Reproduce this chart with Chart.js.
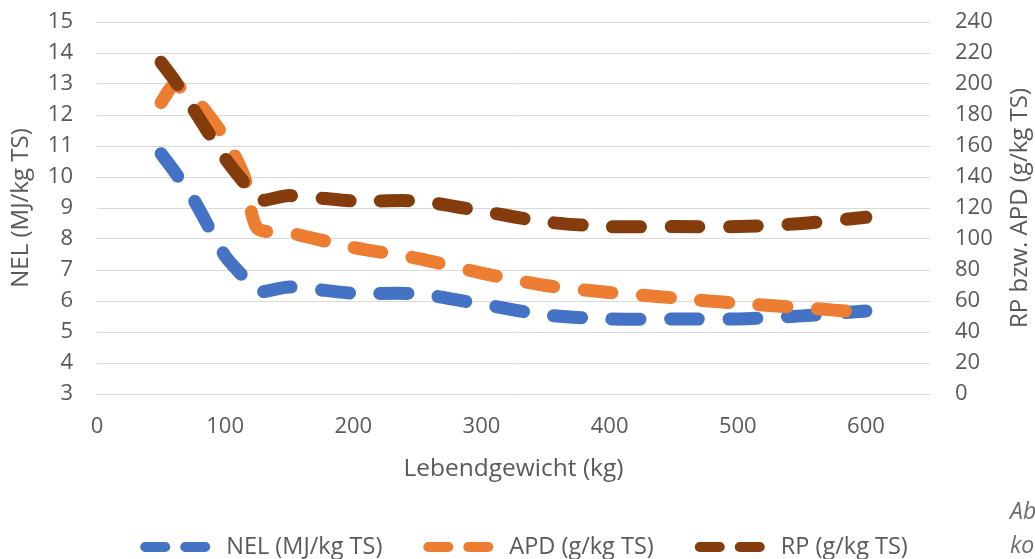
<!DOCTYPE html>
<html>
<head>
<meta charset="utf-8">
<script src="https://cdn.jsdelivr.net/npm/chart.js@4.4.1/dist/chart.umd.min.js"></script>
<style>
  html, body { margin: 0; padding: 0; background: #fff; overflow: hidden; }
  #wrap { position: relative; width: 1035px; height: 559px; }
  .cap { position: absolute; left: 1010px; font: italic 23px "Open Sans", sans-serif; color: #6d6d6d; white-space: nowrap; }
</style>
</head>
<body>
<div id="wrap">
  <canvas id="chart" width="1035" height="559"></canvas>
  <div class="cap" style="top:494px">Ab</div>
  <div class="cap" style="top:528px">ko</div>
</div>
<script>
// Lebendgewicht (kg) und Werte
const weights = [50, 60, 75, 100, 115, 125, 150, 200, 250, 300, 350, 400, 450, 500, 550, 600];
const nel = [10.75, 10.2, 9.3, 7.45, 6.75, 6.3, 6.45, 6.25, 6.23, 5.9, 5.55, 5.42, 5.42, 5.42, 5.52, 5.68];
const apd = [188, 199, 192, 165, 140, 107, 104, 94.5, 87.5, 78, 70, 65.5, 62, 58.5, 55.7, 52.5];
const rp  = [214, 203, 184, 152, 136, 125, 128, 124.5, 124.5, 118, 111, 108, 108, 108, 110, 114];

const xTicks = [0, 100, 200, 300, 400, 500, 600];
const seriesNames = ['NEL (MJ/kg TS)', 'APD (g/kg TS)', 'RP (g/kg TS)'];
const seriesColors = ['#4472C4', '#ED7D31', '#843C0C'];

const FONT = '"Open Sans", sans-serif';
const TXT = '#595959';
const NONE = 'rgba(0,0,0,0)';

function pts(vals){ return weights.map((w, i) => ({x: w, y: vals[i]})); }

function lineSet(i, vals, axis, order){
  return {
    label: seriesNames[i],
    data: pts(vals),
    yAxisID: axis,
    order: order,
    borderColor: seriesColors[i],
    backgroundColor: seriesColors[i],
    borderWidth: 13,
    borderDash: [28, 30.5],
    borderCapStyle: 'round',
    borderJoinStyle: 'round',
    pointRadius: 0,
    tension: 0.25,
    fill: false
  };
}

// rechte Achsenbeschriftung, von unten nach oben gelesen
const rightTitle = {
  id: 'rightTitle',
  afterDraw(chart){
    const {ctx, chartArea} = chart;
    ctx.save();
    ctx.translate(1020, (chartArea.top + chartArea.bottom) / 2);
    ctx.rotate(-Math.PI / 2);
    ctx.font = '24px ' + FONT;
    ctx.fillStyle = TXT;
    ctx.textAlign = 'center';
    ctx.textBaseline = 'middle';
    ctx.fillText('RP bzw. APD (g/kg TS)', 0, 0);
    ctx.restore();
  }
};

// Legende unten mit gestrichelten Symbolen
const dashLegend = {
  id: 'dashLegend',
  afterDraw(chart){
    const {ctx} = chart;
    const sym = 70, gapText = 16, gapItem = 41, cy = 547;
    ctx.save();
    ctx.font = '23.5px ' + FONT;
    const items = chart.data.datasets.map(ds => ({label: ds.label, color: ds.borderColor, w: ctx.measureText(ds.label).width}));
    let total = items.reduce((s, it) => s + sym + gapText + it.w, 0) + gapItem * (items.length - 1);
    let x = 524 - total / 2;
    for (const it of items) {
      ctx.strokeStyle = it.color;
      ctx.lineWidth = 10;
      ctx.lineCap = 'round';
      ctx.setLineDash([]);
      ctx.beginPath();
      ctx.moveTo(x + 5, cy); ctx.lineTo(x + 25, cy);
      ctx.moveTo(x + 45, cy); ctx.lineTo(x + 65, cy);
      ctx.stroke();
      ctx.fillStyle = TXT;
      ctx.textAlign = 'left';
      ctx.textBaseline = 'middle';
      ctx.fillText(it.label, x + sym + gapText, cy);
      x += sym + gapText + it.w + gapItem;
    }
    ctx.restore();
  }
};

new Chart(document.getElementById('chart'), {
  type: 'line',
  data: {
    datasets: [
      lineSet(0, nel, 'y', 3),
      lineSet(1, apd, 'y1', 2),
      lineSet(2, rp, 'y1', 1)
    ]
  },
  plugins: [rightTitle, dashLegend],
  options: {
    responsive: false,
    animation: false,
    layout: { padding: { top: 22, left: 0, right: 0, bottom: 58 } },
    plugins: {
      tooltip: { enabled: false },
      legend: { display: false }
    },
    scales: {
      x: {
        type: 'linear',
        min: 0,
        max: 650,
        afterBuildTicks: s => { s.ticks = xTicks.map(v => ({value: v})); },
        afterFit: s => { s.height = 107; },
        grid: { display: false, drawTicks: false },
        border: { display: false },
        ticks: { color: TXT, font: { family: FONT, size: 22 }, padding: 20, maxRotation: 0 },
        title: { display: true, text: 'Lebendgewicht (kg)', color: TXT, font: { family: FONT, size: 24.5 }, padding: { top: 0, bottom: 17 } }
      },
      y: {
        position: 'left',
        min: 3,
        max: 15,
        afterFit: s => { s.width = 97; },
        grid: { color: '#D9D9D9', lineWidth: 1, drawTicks: true, tickLength: 22, tickColor: NONE },
        border: { display: false },
        ticks: { stepSize: 1, color: TXT, font: { family: FONT, size: 22 }, padding: 2 },
        title: { display: true, text: 'NEL (MJ/kg TS)', color: TXT, font: { family: FONT, size: 24 }, padding: { top: 7, bottom: 0 } }
      },
      y1: {
        position: 'right',
        min: 0,
        max: 240,
        afterFit: s => { s.width = 105; },
        grid: { color: NONE, drawTicks: true, tickLength: 23, tickColor: NONE, drawOnChartArea: false },
        border: { display: false },
        ticks: { stepSize: 20, color: TXT, font: { family: FONT, size: 22 }, padding: 2 }
      }
    }
  }
});
</script>
</body>
</html>
